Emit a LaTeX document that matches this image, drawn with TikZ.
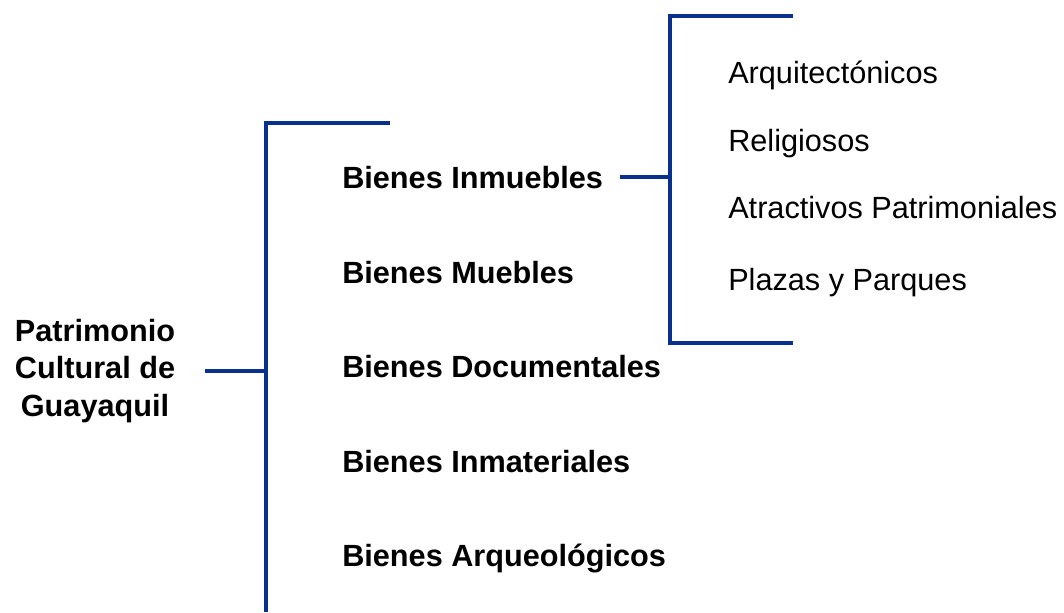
\documentclass[tikz,border=0pt]{standalone}
\usepackage{fontspec}
\setmainfont{Liberation Sans}
\definecolor{bracketblue}{RGB}{8,48,140}

\begin{document}
\begin{tikzpicture}[
    x=0.75pt, y=-0.75pt,
    % Text styles
    root-label/.style={font=\fontsize{23}{28.1}\selectfont\bfseries, align=center, minimum width=165pt, inner sep=0pt},
    group-label/.style={font=\fontsize{23}{28}\selectfont\bfseries, anchor=base west, inner sep=0pt},
    item-label/.style={font=\fontsize{23}{28}\selectfont, anchor=base west, inner sep=0pt},
    % Bracket style
    bracket-line/.style={draw=bracketblue, line width=2.6pt},
]
\useasboundingbox (0,0) rectangle (1064,612);

% === ROOT ===
\node[root-label] (patr) at (95,371) {Patrimonio\\Cultural de\\Guayaquil};

% === FIRST LEVEL ===
\node[group-label] (inm) at (342,188) {Bienes Inmuebles};
\node[group-label] (mue) at (342,283) {Bienes Muebles};
\node[group-label] (doc) at (342,377) {Bienes Documentales};
\node[group-label] (imat) at (342,472) {Bienes Inmateriales};
\node[group-label] (arq) at (342,566) {Bienes Arqueológicos};

% first bracket
\coordinate (b1top) at (266,123);
\coordinate (b1end) at (390,123);
\coordinate (b1bot) at (266,612);
\draw[bracket-line] (b1end) -- (b1top) -- (b1bot);
\draw[bracket-line] (patr.east) -- (patr.east -| b1top);

% === SECOND LEVEL (Bienes Inmuebles) ===
\node[item-label] (arqt) at (728,83) {Arquitectónicos};
\node[item-label] (rel) at (728,151) {Religiosos};
\node[item-label] (atr) at (728,218) {Atractivos Patrimoniales};
\node[item-label] (plz) at (728,290) {Plazas y Parques};

% second bracket
\coordinate (b2top) at (670,16);
\coordinate (b2topend) at (793,16);
\coordinate (b2bot) at (670,343);
\coordinate (b2botend) at (793,343);
\draw[bracket-line] (b2topend) -- (b2top) -- (b2bot) -- (b2botend);
\draw[bracket-line, shorten <=12.75pt] (inm.east) -- (inm.east -| b2top);

\end{tikzpicture}
\end{document}
